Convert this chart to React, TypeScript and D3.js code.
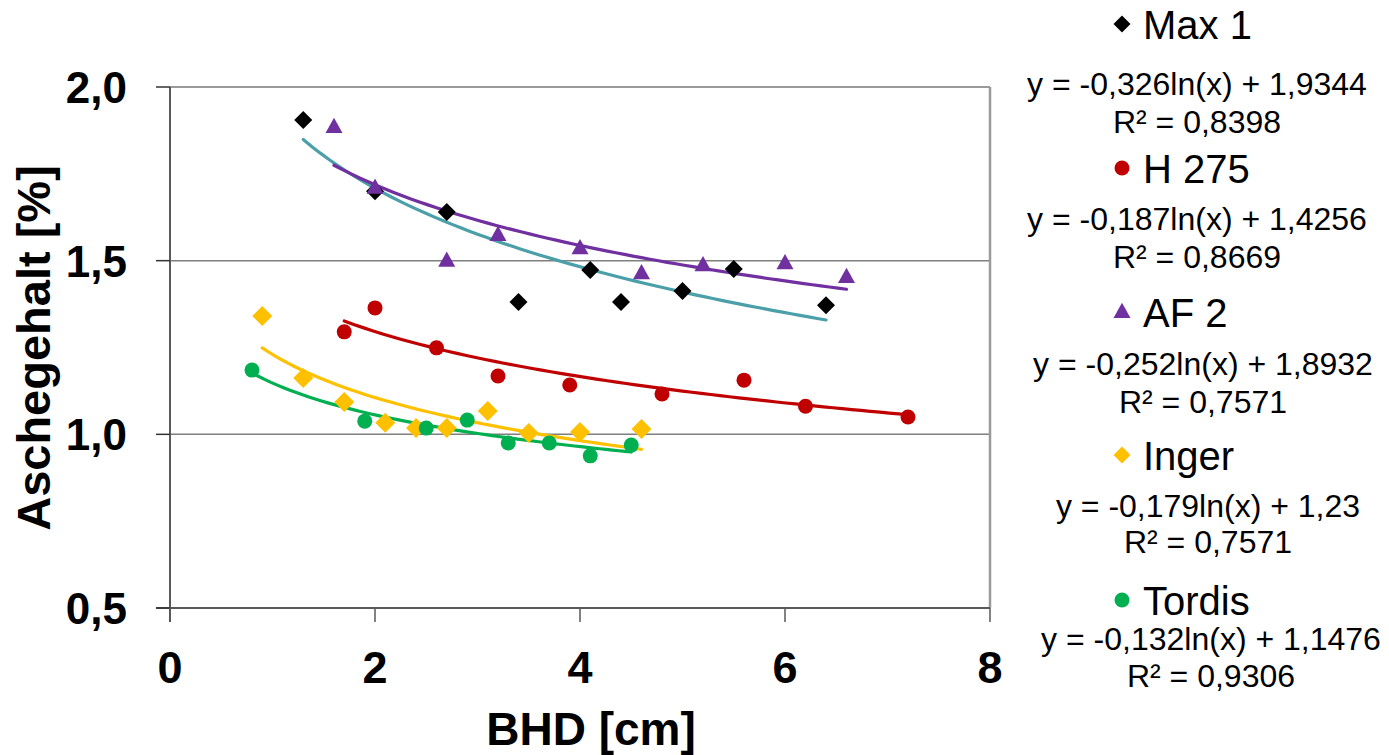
import React from "react";
import * as d3 from "d3";

const W = 1389;
const H = 755;

const seriesNames = ["Max 1", "H 275", "AF 2", "Inger", "Tordis"];
const seriesColors = ["#000000", "#C00000", "#7030A0", "#FFC000", "#00B050"];
const trendColors = ["#4A9FA8", "#C00000", "#7030A0", "#FFC000", "#00B050"];
const seriesShapes = ["diamond", "circle", "triangle", "diamond", "circle"];

const max1X = [1.3, 2.0, 2.7, 3.4, 4.1, 4.4, 5.0, 5.5, 6.4];
const max1Y = [1.905, 1.70, 1.64, 1.381, 1.473, 1.381, 1.413, 1.476, 1.372];

const h275X = [1.7, 2.0, 2.6, 3.2, 3.9, 4.8, 5.6, 6.2, 7.2];
const h275Y = [1.295, 1.364, 1.249, 1.168, 1.142, 1.116, 1.156, 1.081, 1.050];

const af2X = [1.6, 2.0, 2.7, 3.2, 4.0, 4.6, 5.2, 6.0, 6.6];
const af2Y = [1.885, 1.71, 1.50, 1.574, 1.536, 1.464, 1.487, 1.493, 1.453];

const ingerX = [0.9, 1.3, 1.7, 2.1, 2.4, 2.7, 3.1, 3.5, 4.0, 4.6];
const ingerY = [1.341, 1.162, 1.093, 1.033, 1.018, 1.018, 1.067, 1.004, 1.007, 1.015];

const tordisX = [0.8, 1.9, 2.5, 2.9, 3.3, 3.7, 4.1, 4.5];
const tordisY = [1.185, 1.038, 1.018, 1.041, 0.975, 0.975, 0.938, 0.969];

const trendSlopes = [-0.326, -0.187, -0.252, -0.179, -0.132];
const trendIntercepts = [1.9344, 1.4256, 1.8932, 1.23, 1.1476];
const equationTexts = [
  "y = -0,326ln(x) + 1,9344",
  "y = -0,187ln(x) + 1,4256",
  "y = -0,252ln(x) + 1,8932",
  "y = -0,179ln(x) + 1,23",
  "y = -0,132ln(x) + 1,1476",
];
const r2Texts = ["R² = 0,8398", "R² = 0,8669", "R² = 0,7571", "R² = 0,7571", "R² = 0,9306"];

const xTicks = [0, 2, 4, 6, 8];
const yTicks = [0.5, 1.0, 1.5, 2.0];

const xs = [max1X, h275X, af2X, ingerX, tordisX];
const ys = [max1Y, h275Y, af2Y, ingerY, tordisY];

// legend layout
const legendLabelY = [39, 183, 327, 470, 615];
const legendEqY = [95, 230, 375, 517, 650];
const legendR2Y = [133, 268, 413, 553, 687];
const legendEqX = [1197, 1197, 1203, 1208, 1211];

const FONT = "'Liberation Sans', Arial, Helvetica, sans-serif";

function Marker({ shape, color, cx, cy, s }: { shape: string; color: string; cx: number; cy: number; s: number }) {
  if (shape === "diamond") {
    const r = s / 2;
    return <path d={`M${cx},${cy - r}L${cx + r},${cy}L${cx},${cy + r}L${cx - r},${cy}Z`} fill={color} />;
  }
  if (shape === "circle") {
    return <circle cx={cx} cy={cy} r={s / 2} fill={color} />;
  }
  const h = s * 0.9;
  return (
    <path
      d={`M${cx},${cy - h * 0.6}L${cx + s / 2},${cy + h * 0.4}L${cx - s / 2},${cy + h * 0.4}Z`}
      fill={color}
    />
  );
}

export default function App() {
  const x = d3.scaleLinear().domain([0, 8]).range([170, 990]);
  const y = d3.scaleLinear().domain([0.5, 2.0]).range([608, 87]);

  const trendPaths = trendSlopes.map((a, i) => {
    const lo = d3.min(xs[i]) as number;
    const hi = d3.max(xs[i]) as number;
    const pts = d3.range(0, 61).map((k) => lo + ((hi - lo) * k) / 60);
    const line = d3
      .line<number>()
      .x((v) => x(v))
      .y((v) => y(a * Math.log(v) + trendIntercepts[i]));
    return line(pts) as string;
  });

  const markerSize = [18, 15, 17, 20, 15];

  return (
    <svg
      width={W}
      height={H}
      style={{ position: "absolute", left: 0, top: 0, background: "#fff" }}
      fontFamily={FONT}
    >
      {/* gridlines */}
      {yTicks.filter((t) => t > 0.5 && t < 2.0).map((t) => (
        <line key={t} x1={x(0)} x2={x(8)} y1={y(t)} y2={y(t)} stroke="#7f7f7f" strokeWidth={1.5} />
      ))}
      {/* top & right border */}
      <line x1={x(0)} x2={x(8)} y1={y(2)} y2={y(2)} stroke="#9a9a9a" strokeWidth={2} />
      <line x1={x(8)} x2={x(8)} y1={y(2)} y2={y(0.5)} stroke="#9a9a9a" strokeWidth={2.5} />
      {/* axes */}
      <line x1={x(0)} x2={x(0)} y1={y(2)} y2={y(0.5) + 14} stroke="#595959" strokeWidth={2} />
      <line x1={x(0) - 14} x2={x(8)} y1={y(0.5)} y2={y(0.5)} stroke="#595959" strokeWidth={2} />
      {yTicks.map((t) => (
        <g key={"yt" + t}>
          <line x1={x(0) - 14} x2={x(0)} y1={y(t)} y2={y(t)} stroke="#333" strokeWidth={1.5} />
          <text
            x={127}
            y={y(t)}
            dy="0.36em"
            textAnchor="end"
            fontSize={44}
            fontWeight="bold"
          >
            {t.toFixed(1).replace(".", ",")}
          </text>
        </g>
      ))}
      {xTicks.map((t) => (
        <g key={"xt" + t}>
          <line x1={x(t)} x2={x(t)} y1={y(0.5)} y2={y(0.5) + 14} stroke="#595959" strokeWidth={1.5} />
          <text x={x(t)} y={683} textAnchor="middle" fontSize={45} fontWeight="bold">
            {t}
          </text>
        </g>
      ))}
      <text x={591} y={745} textAnchor="middle" fontSize={46} fontWeight="bold">
        BHD [cm]
      </text>
      <text
        transform={`translate(50,348) rotate(-90)`}
        textAnchor="middle"
        fontSize={47}
        fontWeight="bold"
      >
        Aschegehalt [%]
      </text>

      {/* trendlines */}
      {trendPaths.map((d, i) => (
        <path key={"tr" + i} d={d} fill="none" stroke={trendColors[i]} strokeWidth={3.2} strokeLinecap="round" />
      ))}

      {/* points, drawn in series order */}
      {xs.map((arr, i) =>
        arr.map((v, j) => (
          <Marker
            key={`p${i}-${j}`}
            shape={seriesShapes[i]}
            color={seriesColors[i]}
            cx={x(v)}
            cy={y(ys[i][j])}
            s={markerSize[i]}
          />
        ))
      )}

      {/* legend */}
      {seriesNames.map((n, i) => (
        <g key={"lg" + i}>
          <Marker
            shape={seriesShapes[i]}
            color={seriesColors[i]}
            cx={1122}
            cy={legendLabelY[i] - 15}
            s={i === 1 || i === 4 ? 15 : 17}
          />
          <text x={1143} y={legendLabelY[i]} fontSize={40}>
            {n}
          </text>
          <text x={legendEqX[i]} y={legendEqY[i]} fontSize={32} textAnchor="middle">
            {equationTexts[i]}
          </text>
          <text x={legendEqX[i]} y={legendR2Y[i]} fontSize={32} textAnchor="middle">
            {r2Texts[i]}
          </text>
        </g>
      ))}
    </svg>
  );
}
